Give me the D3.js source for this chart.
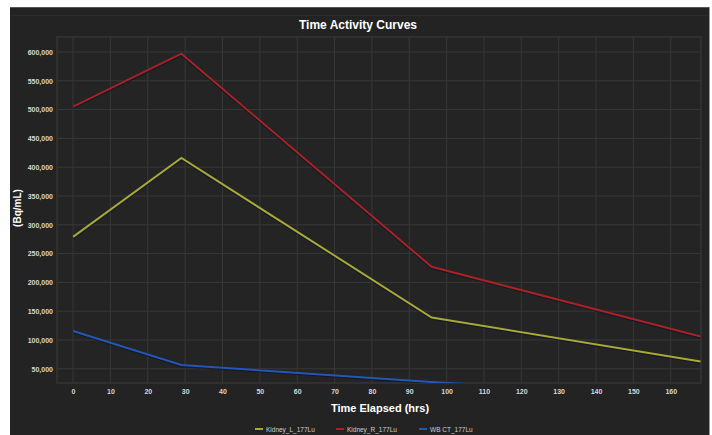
<!DOCTYPE html>
<html>
<head>
<meta charset="utf-8">
<script src="https://cdn.jsdelivr.net/npm/d3@7"></script>
<style>
  html, body { margin: 0; padding: 0; background: #ffffff; }
  svg { display: block; }
  text { font-family: "Liberation Sans", Arial, sans-serif; }
</style>
</head>
<body>
<svg id="chart" width="712" height="435"></svg>
<script>
// ---- data ----
const timesL = [0, 29, 96, 168];
const kidneyL = [279000, 416000, 139000, 62500];
const timesR = [0, 29, 96, 168];
const kidneyR = [505000, 597000, 227000, 106000];
const timesWB = [0, 29, 96, 168];
const wbCT = [115600, 56600, 27000, 0];
const seriesNames = ["Kidney_L_177Lu", "Kidney_R_177Lu", "WB CT_177Lu"];
const seriesColors = ["#a9a935", "#a82424", "#2458b4"];
const xTicks = [0, 10, 20, 30, 40, 50, 60, 70, 80, 90, 100, 110, 120, 130, 140, 150, 160];
const yTicks = [50000, 100000, 150000, 200000, 250000, 300000, 350000, 400000, 450000, 500000, 550000, 600000];
const chartTitle = "Time Activity Curves";
const xTitle = "Time Elapsed (hrs)";
const yTitle = "(Bq/mL)";

const svg = d3.select("#chart");
const W = 712, H = 435;
const plot = { left: 57, right: 701, top: 37, bottom: 383 };

// panel
svg.append("rect").attr("x", 10).attr("y", 7).attr("width", 699).attr("height", H - 7)
  .attr("fill", "#232323");
svg.append("line").attr("x1", 10).attr("x2", 709).attr("y1", 7.5).attr("y2", 7.5)
  .attr("stroke", "#555").attr("stroke-width", 1);
svg.append("line").attr("x1", 10).attr("x2", 709).attr("y1", 15.5).attr("y2", 15.5)
  .attr("stroke", "#2b2b2b").attr("stroke-width", 1);
svg.append("line").attr("x1", 709.5).attr("x2", 709.5).attr("y1", 7).attr("y2", H)
  .attr("stroke", "#9a9a9a").attr("stroke-width", 1);

const x = d3.scaleLinear().domain([-4.3, 168.1]).range([plot.left, plot.right]);
const y = d3.scaleLinear().domain([25300, 626000]).range([plot.bottom, plot.top]);

// plot background
svg.append("rect").attr("x", plot.left).attr("y", plot.top)
  .attr("width", plot.right - plot.left).attr("height", plot.bottom - plot.top)
  .attr("fill", "#242424").attr("stroke", "#353535").attr("stroke-width", 1.5);

// gridlines
const grid = svg.append("g");
grid.selectAll("line.v").data(xTicks).join("line")
  .attr("x1", d => x(d)).attr("x2", d => x(d))
  .attr("y1", plot.top).attr("y2", plot.bottom)
  .attr("stroke", "#383838").attr("stroke-width", 1);
grid.selectAll("line.h").data(yTicks).join("line")
  .attr("x1", plot.left).attr("x2", plot.right)
  .attr("y1", d => y(d)).attr("y2", d => y(d))
  .attr("stroke", "#383838").attr("stroke-width", 1);

// axes via d3 axis
const fmt = d3.format(",");
const yAxis = svg.append("g").attr("transform", `translate(${plot.left - 4},0)`)
  .call(d3.axisLeft(y).tickValues(yTicks).tickFormat(fmt).tickSize(0).tickPadding(0));
yAxis.select(".domain").remove();
yAxis.selectAll("text").attr("fill", "#d8d8d8").attr("font-size", 7).attr("font-weight", "bold")
  .style("font-family", "'Liberation Sans', Arial, sans-serif");

const xAxis = svg.append("g").attr("transform", `translate(0,${plot.bottom + 6})`)
  .call(d3.axisBottom(x).tickValues(xTicks).tickFormat(d3.format("d")).tickSize(0).tickPadding(0));
xAxis.select(".domain").remove();
xAxis.selectAll("text").attr("fill", "#d8d8d8").attr("font-size", 7).attr("font-weight", "bold")
  .style("font-family", "'Liberation Sans', Arial, sans-serif");

// clip
svg.append("clipPath").attr("id", "clip").append("rect")
  .attr("x", plot.left).attr("y", plot.top)
  .attr("width", plot.right - plot.left).attr("height", plot.bottom - plot.top);

const line = d3.line().x(d => x(d[0])).y(d => y(d[1]));
const seriesData = [
  d3.zip(timesL, kidneyL),
  d3.zip(timesR, kidneyR),
  d3.zip(timesWB, wbCT)
];
const lines = svg.append("g").attr("clip-path", "url(#clip)");
seriesData.forEach((data, i) => {
  lines.append("path").datum(data).attr("d", line)
    .attr("fill", "none").attr("stroke", "#10142a").attr("stroke-width", 3.2)
    .attr("stroke-opacity", 0.7).attr("transform", "translate(0,0.6)");
  lines.append("path").datum(data).attr("d", line)
    .attr("fill", "none").attr("stroke", seriesColors[i]).attr("stroke-width", 2)
    .attr("stroke-linejoin", "miter");
});

// titles
svg.append("text").attr("x", 358).attr("y", 29).attr("text-anchor", "middle")
  .attr("fill", "#ffffff").attr("font-size", 12).attr("font-weight", "bold").text(chartTitle);
svg.append("text").attr("x", 380).attr("y", 412).attr("text-anchor", "middle")
  .attr("fill", "#ffffff").attr("font-size", 11).attr("font-weight", "bold").text(xTitle);
svg.append("text").attr("transform", "translate(21,208) rotate(-90)").attr("text-anchor", "middle")
  .attr("fill", "#ffffff").attr("font-size", 10).attr("font-weight", "bold").text(yTitle);

// legend
const legendX = [255, 336, 419];
const legend = svg.append("g");
seriesNames.forEach((name, i) => {
  legend.append("line").attr("x1", legendX[i]).attr("x2", legendX[i] + 8)
    .attr("y1", 429).attr("y2", 429).attr("stroke", seriesColors[i]).attr("stroke-width", 2);
  legend.append("text").attr("x", legendX[i] + 11).attr("y", 431.5)
    .attr("fill", "#cfcfcf").attr("font-size", 6.5).text(name);
});
</script>
</body>
</html>
